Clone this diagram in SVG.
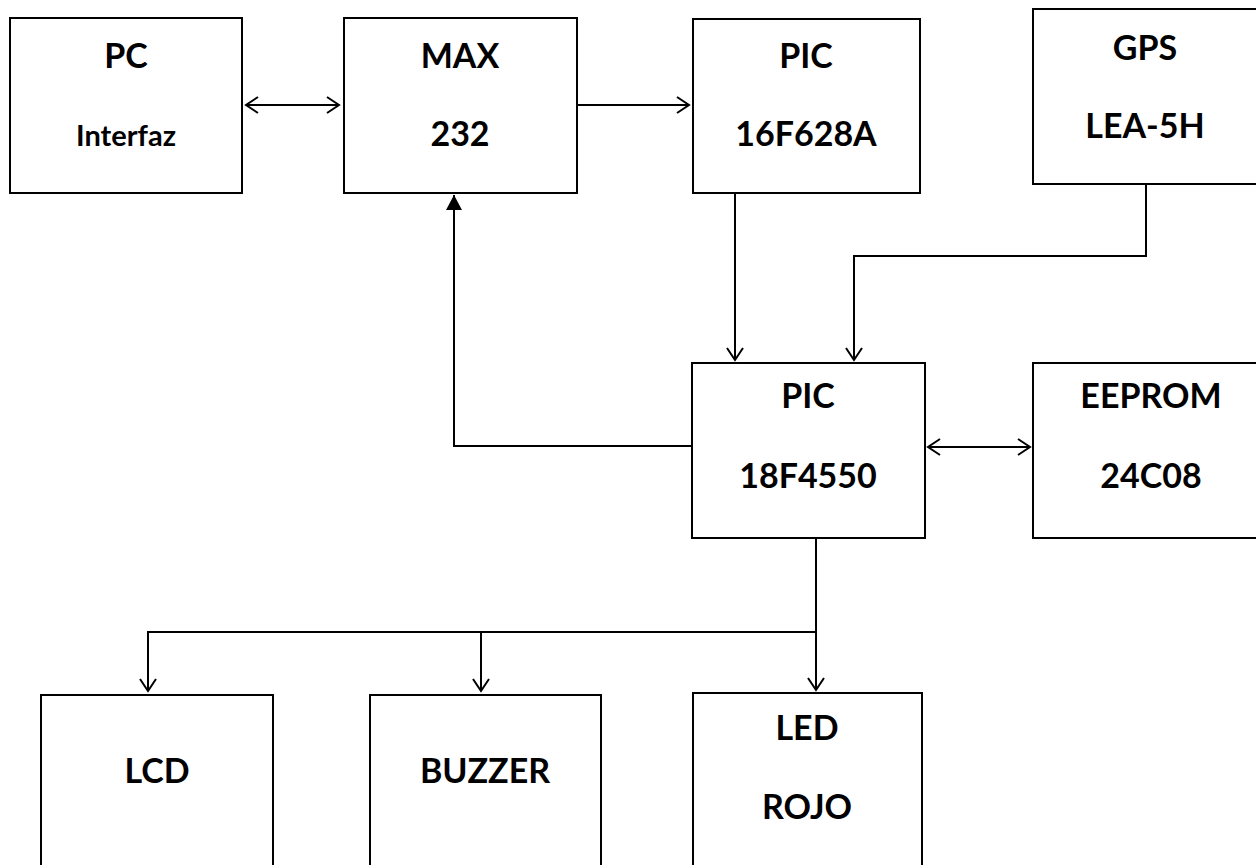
<svg xmlns="http://www.w3.org/2000/svg" width="1256" height="865" viewBox="0 0 1256 865">
<style>
.box{fill:#fff;stroke:#000;stroke-width:2}
.t{font-family:"Lato","Liberation Sans",sans-serif;font-weight:bold;font-size:34px;text-anchor:middle;fill:#000}
.s{font-size:29px}
.c{fill:none;stroke:#000;stroke-width:2}
</style>
<defs>
<marker id="a" markerUnits="userSpaceOnUse" viewBox="-14 -10 16 20" refX="0" refY="0" markerWidth="16" markerHeight="20" orient="auto-start-reverse">
<path d="M-12,-8 L0,0 L-12,8" fill="none" stroke="#000" stroke-width="2"/>
</marker>
<marker id="f" markerUnits="userSpaceOnUse" viewBox="-16 -10 18 20" refX="0" refY="0" markerWidth="18" markerHeight="20" orient="auto">
<path d="M-15,-8 L0,0 L-15,8 Z" fill="#000"/>
</marker>
</defs>
<rect width="1256" height="865" fill="#fff"/>
<g id="connectors">
<line class="c" x1="246" y1="105" x2="339" y2="105" marker-start="url(#a)" marker-end="url(#a)"/>
<line class="c" x1="577" y1="105" x2="689" y2="105" marker-end="url(#a)"/>
<line class="c" x1="735" y1="193" x2="735" y2="360" marker-end="url(#a)"/>
<polyline class="c" points="1146,184 1146,256 854,256 854,360" marker-end="url(#a)"/>
<line class="c" x1="928" y1="447" x2="1030" y2="447" marker-start="url(#a)" marker-end="url(#a)"/>
<polyline class="c" points="692,446 454,446 454,195" marker-end="url(#f)"/>
<line class="c" x1="816" y1="538" x2="816" y2="690" marker-end="url(#a)"/>
<polyline class="c" points="816,632 148,632 148,691" marker-end="url(#a)"/>
<line class="c" x1="481" y1="632" x2="481" y2="691" marker-end="url(#a)"/>
</g>
<g id="pc"><rect class="box" x="10" y="18" width="232" height="175"/><text class="t" x="126" y="68">PC</text><text class="t s" x="126" y="146">Interfaz</text></g>
<g id="max"><rect class="box" x="344" y="18" width="233" height="175"/><text class="t" x="460" y="68">MAX</text><text class="t" x="460" y="146">232</text></g>
<g id="pic16"><rect class="box" x="693" y="19" width="227" height="174"/><text class="t" x="806" y="68">PIC</text><text class="t" x="806" y="146">16F628A</text></g>
<g id="gps"><rect class="box" x="1033" y="9" width="224" height="175"/><text class="t" x="1145" y="60">GPS</text><text class="t" x="1145" y="138">LEA-5H</text></g>
<g id="pic18"><rect class="box" x="692" y="363" width="233" height="175"/><text class="t" x="808" y="408">PIC</text><text class="t" x="808" y="488">18F4550</text></g>
<g id="eeprom"><rect class="box" x="1033" y="363" width="224" height="175"/><text class="t" x="1151" y="408">EEPROM</text><text class="t" x="1151" y="488">24C08</text></g>
<g id="lcd"><rect class="box" x="41" y="695" width="232" height="180"/><text class="t" x="157" y="783">LCD</text></g>
<g id="buzzer"><rect class="box" x="370" y="695" width="231" height="180"/><text class="t" x="485" y="783">BUZZER</text></g>
<g id="led"><rect class="box" x="693" y="693" width="229" height="182"/><text class="t" x="807" y="740">LED</text><text class="t" x="807" y="819">ROJO</text></g>
</svg>
